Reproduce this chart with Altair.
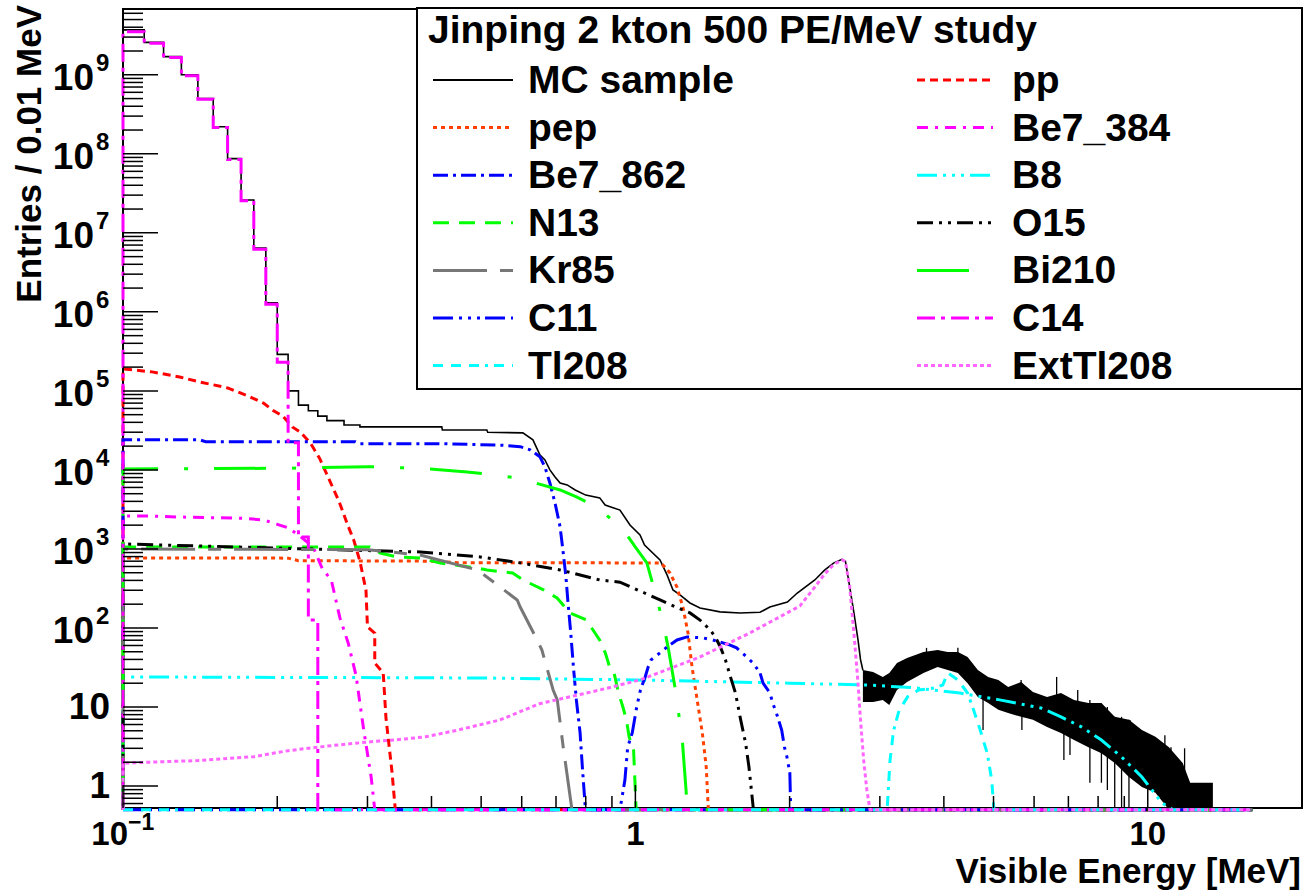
import altair as alt
import pandas as pd

# ------------------------------------------------------------------ frame
X_MIN, X_MAX = 0.1, 20.0
Y_MIN, Y_MAX = 0.527, 6.8e9
EMPTY = 0.5          # empty bins are drawn just under the frame
E_END = 16.0         # histograms run along the bottom up to here
FONT = "Liberation Sans"
W, H = 1179, 799

# ------------------------------------------------------------------ MC sample
MC_EDGES = [0.10, 0.11, 0.12, 0.13, 0.14, 0.15, 0.16, 0.17, 0.18, 0.19, 0.20,
            0.21, 0.22, 0.23, 0.24, 0.25, 0.26, 0.27, 0.28, 0.29, 0.30]
MC_BINS = [3.7e9, 2.57e9, 1.7e9, 1.0e9, 5.0e8, 2.2e8, 8.7e7, 2.6e7, 6.4e6, 1.3e6,
           2.9e5, 1.0e5, 6.6e4, 5.6e4, 4.8e4, 4.2e4, 4.2e4, 3.7e4, 3.7e4, 3.5e4]
MC_TAIL_E = [0.419, 0.42, 0.513, 0.515, 0.603, 0.631, 0.651, 0.666, 0.681, 0.697,
             0.713, 0.736, 0.763, 0.80, 0.852, 0.873, 0.933, 0.976, 1.021, 1.042,
             1.117, 1.153, 1.184, 1.222, 1.278, 1.337, 1.463, 1.60, 1.751, 1.83,
             1.98, 2.07, 2.24, 2.34, 2.44, 2.531, 2.57, 2.62, 2.67, 2.72, 2.75, 2.78]
MC_TAIL_V = [3.5e4, 3.2e4, 3.2e4, 3.0e4, 2.94e4, 2.4e4, 1.55e4, 1.34e4, 1.0e4, 8150,
             6840, 6460, 5580, 4800, 4430, 3600, 3100, 2010, 1500, 1120,
             726, 469, 303, 262, 207, 179, 160, 155, 158, 184,
             213, 277, 405, 540, 666, 740, 700, 330, 155, 70, 40, 29]
# fluctuating high-energy part: envelope of the bin contents
MC_HIGH_E = [2.78, 2.91, 3.04, 3.13, 3.24, 3.39, 3.65, 3.89, 4.07, 4.26, 4.45, 4.66,
             4.88, 5.11, 5.34, 5.66, 5.97, 6.36, 6.77, 7.18, 7.66, 8.12, 8.62, 9.19,
             9.74, 10.35, 11.0, 11.7, 12.1, 13.0, 13.4]
MC_HIGH_MAX = [29.4, 27.7, 24, 26.9, 36, 41.6, 49.6, 52.6, 49.6, 49.6, 43, 29.4,
               24, 22, 17.9, 20.7, 15.5, 13.4, 15, 12.3, 11.2, 11.2, 7.5, 6.9,
               5.1, 4.2, 3.1, 1.95, 1.1, 1.1, 1.1]
MC_HIGH_MIN = [11.6, 11.6, 12.3, 10.6, 16.4, 20.7, 27, 32, 29.4, 27, 20, 13.4,
               11.2, 9.2, 8.4, 7.5, 6.9, 5.6, 4.7, 3.82, 3.1, 2.6, 1.95, 1.3,
               0.97, 0.82, 0, 0, 0, 0, 0]
SPIKE_E = [3.70, 4.26, 4.77, 5.66, 5.68, 6.64, 6.86, 7.05, 7.30, 7.71, 8.12, 8.34,
           8.62, 8.76, 8.89, 9.19, 9.24, 9.42, 10.8, 11.1, 11.8]
SPIKE_LO = [40, 40, 5.1, 12, 5.1, 10, 2.13, 2.47, 8, 1.1, 1.1, 0.89,
            0, 4, 0, 0, 3, 2, 1.5, 1.2, 0.8]
SPIKE_HI = [56, 56, 24, 22, 20, 24, 14, 13, 16.4, 12.3, 11, 10,
            7.5, 6.9, 7.5, 6.9, 6.8, 4.7, 4.4, 3.1, 3.0]

# ------------------------------------------------------------------ components
C14_EDGES = [0.10, 0.11, 0.12, 0.13, 0.14, 0.15, 0.16, 0.17, 0.18, 0.19, 0.20,
             0.21, 0.22, 0.23, 0.24]
C14_BINS = [3.5e9, 2.5e9, 1.65e9, 9.7e8, 4.9e8, 2.15e8, 8.5e7, 2.55e7, 6.2e6,
            1.25e6, 2.3e5, 2.2e4, 1420, 126]

PP_E = [0.100, 0.114, 0.129, 0.141, 0.160, 0.177, 0.188, 0.196, 0.205, 0.214,
        0.222, 0.232, 0.242, 0.252, 0.264, 0.275, 0.282, 0.290, 0.298, 0.300,
        0.310, 0.310, 0.322, 0.326, 0.335, 0.340]
PP_V = [1.9e5, 1.74e5, 1.5e5, 1.3e5, 1.09e5, 8.4e4, 7.0e4, 5.7e4, 4.8e4, 3.5e4,
        3.0e4, 2.2e4, 1.4e4, 7800, 4000, 1950, 1300, 700, 300, 103,
        86, 36, 27, 7.3, 1.5, 0]

PEP_E = [0.10, 0.21, 0.22, 0.41, 0.45, 1.12, 1.14, 1.168, 1.205, 1.238, 1.267,
         1.290, 1.320, 1.351, 1.375, 1.388]
PEP_V = [770, 765, 710, 700, 670, 665, 594, 497, 331, 184, 86, 32, 12.3, 4.7, 1.74, 0]

BE7_384_E = [0.100, 0.114, 0.133, 0.169, 0.188, 0.200, 0.210, 0.220, 0.235, 0.245,
             0.255, 0.265, 0.275, 0.285, 0.295, 0.305, 0.310]
BE7_384_V = [2620, 2600, 2520, 2450, 2330, 2050, 1850, 1500, 1060, 558,
             405, 135, 65, 25, 5.1, 1.3, 0]

BE7_862_E = [0.10, 0.141, 0.145, 0.284, 0.29, 0.42, 0.55, 0.596, 0.623, 0.651, 0.666,
             0.681, 0.697, 0.713, 0.722, 0.732, 0.738, 0.748, 0.757, 0.767, 0.78,
             0.788, 0.799]
BE7_862_V = [2.4e4, 2.4e4, 2.28e4, 2.28e4, 2.15e4, 2.15e4, 2.05e4, 1.97e4, 1.8e4,
             1.47e4, 1.09e4, 6840, 3800, 1900, 970, 440, 226, 86, 32, 12.3, 4.7,
             1.74, 0]

B8_E = [0.10, 0.5, 1.0, 2.0, 2.84, 3.5, 4.30, 5.14, 6.19, 6.77, 7.42, 8.12, 8.89,
        9.74, 10.19, 10.66, 11.2]
B8_V = [24, 23.3, 22, 20, 19, 17.5, 15, 12.3, 9.7, 7.5, 5.6, 3.82, 2.33, 1.3,
        0.89, 0.61, 0]

N13_E = [0.10, 0.3035, 0.3176, 0.3425, 0.38, 0.4159, 0.4911, 0.5133, 0.5759,
         0.6034, 0.6619, 0.7033, 0.745, 0.8027, 0.8515, 0.8735, 0.8907, 0.9086,
         0.9269, 0.9455, 0.9608, 0.9723, 0.992, 1.0036]
N13_V = [1060, 1060, 889, 792, 769, 665, 574, 541, 497, 405, 303, 240, 155, 126,
         70.5, 48.4, 32, 27, 15, 10, 6.8, 4.2, 2.86, 0]

O15_E = [0.10, 0.38, 0.498, 0.596, 0.713, 0.852, 0.933, 1.042, 1.117, 1.20, 1.278,
         1.337, 1.40, 1.432, 1.465, 1.499, 1.533, 1.568, 1.605, 1.641, 1.666, 1.70]
O15_V = [1156, 916, 792, 666, 542, 405, 380, 277, 226, 184, 155, 126, 94, 77,
         57.5, 39.4, 24, 15, 6.9, 3.5, 1.74, 0]

KR85_E = [0.10, 0.30, 0.38, 0.491, 0.513, 0.588, 0.596, 0.643, 0.657, 0.691, 0.704,
          0.723, 0.729, 0.752]
KR85_V = [1000, 980, 839, 542, 442, 226, 184, 70.5, 52.5, 16.4, 12.3, 3.11, 2.13, 0]

BI210_E = [0.10, 0.21, 0.30, 0.38, 0.4697, 0.527, 0.5876, 0.713, 0.7673, 0.8421,
           0.9479, 0.9994, 1.053, 1.103, 1.133, 1.159, 1.200, 1.216, 1.236, 1.264]
BI210_V = [1.03e4, 1.05e4, 1.1e4, 1.05e4, 9440, 8650, 7920, 5580, 4550, 3400,
           1740, 1060, 665, 226, 116, 56, 15, 7.9, 3.5, 0]

C11_E = [0.933, 0.954, 0.966, 0.986, 1.006, 1.023, 1.045, 1.059, 1.073, 1.117,
         1.153, 1.206, 1.261, 1.354, 1.416, 1.527, 1.576, 1.649, 1.697, 1.751,
         1.775, 1.831, 1.854, 1.895, 1.930, 1.954, 1.976, 2.002, 2.01]
C11_V = [0, 1.19, 3.11, 4.7, 10, 16.4, 24, 32, 39.4, 48.4, 57.5, 70.5, 77, 74.9,
         70.5, 61, 56, 43, 36, 27, 20, 15, 11.2, 7.5, 5.1, 3.11, 2.33, 1.46, 0]

TL208_E = [3.10, 3.14, 3.19, 3.27, 3.40, 3.57, 3.83, 3.98, 4.07, 4.26, 4.45, 4.57,
           4.71, 4.86, 4.96, 5.01]
TL208_V = [0, 2.1, 5, 9, 13.5, 16.4, 17.4, 19, 27, 22, 15, 9.2, 5.1, 2.6, 1.19, 0]

EXT_TL208_E = [0.10, 0.14, 0.18, 0.21, 0.25, 0.30, 0.35, 0.39, 0.45, 0.544, 0.65,
               0.852, 1.021, 1.337, 1.67, 2.095, 2.24, 2.34, 2.44, 2.531, 2.57,
               2.62, 2.67, 2.72, 2.75, 2.79, 2.83, 2.87]
EXT_TL208_V = [1.95, 2.1, 2.35, 2.8, 3.2, 3.6, 3.9, 4.2, 5.1, 6.85, 11, 16.4, 22,
               43, 86, 190, 330, 480, 640, 726, 690, 330, 86, 20, 6.9, 2.1, 0.89, 0]

# ------------------------------------------------------------------ axes
X_MAJOR = [0.1, 1, 10]
X_MINOR = [m * d for d in (0.1, 1) for m in range(2, 10)] + [20]
Y_MAJOR = [10.0 ** k for k in range(0, 10)]
Y_MINOR = ([0.6, 0.7, 0.8, 0.9]
           + [m * 10.0 ** k for k in range(0, 9) for m in range(2, 10)]
           + [2e9, 3e9, 4e9, 5e9, 6e9])
Y_LABEL_BASE = ["1", "10", "10", "10", "10", "10", "10", "10", "10", "10"]
Y_LABEL_EXP = ["", "", "2", "3", "4", "5", "6", "7", "8", "9"]
X_LABEL_BASE = ["10", "1", "10"]
X_LABEL_EXP = ["\u22121", "", ""]


def hist(edges, values):
    pts = []
    for lo, hi, v in zip(edges[:-1], edges[1:], values):
        pts += [(lo, v), (hi, v)]
    return pts


def curve(es, vs):
    pts = [(X_MIN, 0)] + list(zip(es, vs))
    if vs[-1] != 0:
        pts.append((es[-1], 0))
    pts.append((E_END, 0))
    return pts


def frame(points):
    return pd.DataFrame([{"E": e, "V": (v if v > 0 else EMPTY), "i": i}
                         for i, (e, v) in enumerate(points)])


SERIES = {
    "MC sample": [(X_MIN, 0)] + hist(MC_EDGES, MC_BINS) + list(zip(MC_TAIL_E, MC_TAIL_V)),
    "pp": curve(PP_E, PP_V),
    "pep": curve(PEP_E, PEP_V),
    "Be7_384": curve(BE7_384_E, BE7_384_V),
    "Be7_862": curve(BE7_862_E, BE7_862_V),
    "B8": curve(B8_E, B8_V),
    "N13": curve(N13_E, N13_V),
    "O15": curve(O15_E, O15_V),
    "Kr85": curve(KR85_E, KR85_V),
    "Bi210": curve(BI210_E, BI210_V),
    "C11": curve(C11_E, C11_V),
    "C14": [(X_MIN, 0)] + hist(C14_EDGES, C14_BINS) + [(C14_EDGES[-1], 0), (E_END, 0)],
    "Tl208": curve(TL208_E, TL208_V),
    "ExtTl208": curve(EXT_TL208_E, EXT_TL208_V),
}

# colour, dash pattern, line width (ROOT line styles)
STYLE = {
    "MC sample": ("#000000", None, 1.6),
    "pp": ("#ff0000", [8, 5], 3),
    "pep": ("#ff4000", [4, 4], 3),
    "Be7_384": ("#ff00ff", [11, 7, 3, 7], 3),
    "Be7_862": ("#0000ff", [15, 5, 3, 5], 3),
    "B8": ("#00ffff", [20, 6, 3, 6, 3, 6, 3, 6], 3),
    "N13": ("#00ff00", [16, 10], 3),
    "O15": ("#000000", [16, 6, 3, 6, 3, 6], 3),
    "Kr85": ("#777777", [54, 13, 13, 13], 3),
    "Bi210": ("#00ff00", [52, 26, 4, 26], 3),
    "C11": ("#0000ff", [20, 6, 3, 6, 3, 6, 3, 5], 3),
    "C14": ("#ff00ff", [18, 6, 4, 6], 3),
    "Tl208": ("#00ffff", [10, 8, 10, 8, 10, 6, 3, 6], 3),
    "ExtTl208": ("#ff66ff", [4, 3], 3),
}
LEGEND_LEFT = ["MC sample", "pep", "Be7_862", "N13", "Kr85", "C11", "Tl208"]
LEGEND_RIGHT = ["pp", "Be7_384", "B8", "O15", "Bi210", "C14", "ExtTl208"]
LEGEND_TITLE = "Jinping 2 kton 500 PE/MeV study"

xs = alt.Scale(type="log", domain=[X_MIN, X_MAX], nice=False)
ys = alt.Scale(type="log", domain=[Y_MIN, Y_MAX], nice=False)


def X(field):
    return alt.X(field, type="quantitative", scale=xs, axis=None)


def Y(field):
    return alt.Y(field, type="quantitative", scale=ys, axis=None)


one = pd.DataFrame({"k": [0]})
layers = []

# high-energy MC band and its deepest fluctuations
band = pd.DataFrame({"E": MC_HIGH_E,
                     "HI": MC_HIGH_MAX,
                     "LO": [v if v > 0 else EMPTY for v in MC_HIGH_MIN]})
layers.append(alt.Chart(band).mark_area(color="black", opacity=1).encode(
    x=X("E"), y=Y("HI"), y2=alt.Y2("LO")))
spikes = pd.DataFrame({"E": SPIKE_E,
                       "LO": [v if v > 0 else EMPTY for v in SPIKE_LO],
                       "HI": SPIKE_HI})
layers.append(alt.Chart(spikes).mark_rule(color="black", strokeWidth=1.3).encode(
    x=X("E"), y=Y("LO"), y2=alt.Y2("HI")))

for name, pts in SERIES.items():
    color, dash, width = STYLE[name]
    kw = dict(color=color, strokeWidth=width)
    if dash:
        kw["strokeDash"] = dash
    layers.append(alt.Chart(frame(pts)).mark_line(**kw).encode(
        x=X("E"), y=Y("V"), order=alt.Order("i:Q")))

# ticks drawn inside the frame
tick_col = "#000000"
layers.append(alt.Chart(pd.DataFrame({"t": Y_MAJOR})).mark_rule(color=tick_col, strokeWidth=1.5)
              .encode(y=Y("t"), x=alt.value(0), x2=alt.value(35)))
layers.append(alt.Chart(pd.DataFrame({"t": Y_MINOR})).mark_rule(color=tick_col, strokeWidth=1.5)
              .encode(y=Y("t"), x=alt.value(0), x2=alt.value(20)))
layers.append(alt.Chart(pd.DataFrame({"t": X_MAJOR})).mark_rule(color=tick_col, strokeWidth=1.5)
              .encode(x=X("t"), y=alt.value(H), y2=alt.value(H - 23)))
layers.append(alt.Chart(pd.DataFrame({"t": X_MINOR})).mark_rule(color=tick_col, strokeWidth=1.5)
              .encode(x=X("t"), y=alt.value(H), y2=alt.value(H - 12)))

# tick labels
txt = dict(font=FONT, fontWeight="bold", color="black")
ylab = pd.DataFrame({"v": Y_MAJOR, "base": Y_LABEL_BASE, "exp": Y_LABEL_EXP})
layers.append(alt.Chart(ylab).transform_filter("datum.exp == ''")
              .mark_text(align="right", baseline="middle", fontSize=37, dy=1, **txt)
              .encode(y=Y("v"), x=alt.value(-13), text="base:N"))
layers.append(alt.Chart(ylab).transform_filter("datum.exp != ''")
              .mark_text(align="right", baseline="middle", fontSize=37, dy=4, **txt)
              .encode(y=Y("v"), x=alt.value(-29), text="base:N"))
layers.append(alt.Chart(ylab).transform_filter("datum.exp != ''")
              .mark_text(align="left", baseline="middle", fontSize=24, dy=-11, **txt)
              .encode(y=Y("v"), x=alt.value(-27), text="exp:N"))
xlab = pd.DataFrame({"v": X_MAJOR, "base": X_LABEL_BASE, "exp": X_LABEL_EXP})
layers.append(alt.Chart(xlab).transform_filter("datum.exp == ''")
              .mark_text(align="center", baseline="middle", fontSize=33, **txt)
              .encode(x=X("v"), y=alt.value(826), text="base:N"))
layers.append(alt.Chart(xlab).transform_filter("datum.exp != ''")
              .mark_text(align="right", baseline="middle", fontSize=33, dx=5, **txt)
              .encode(x=X("v"), y=alt.value(826), text="base:N"))
layers.append(alt.Chart(xlab).transform_filter("datum.exp != ''")
              .mark_text(align="left", baseline="middle", fontSize=23, dx=5, **txt)
              .encode(x=X("v"), y=alt.value(814), text="exp:N"))

# axis titles
layers.append(alt.Chart(one).mark_text(align="right", baseline="middle", angle=270,
                                       fontSize=35, text="Entries / 0.01 MeV", **txt)
              .encode(x=alt.value(-93), y=alt.value(-4)))
layers.append(alt.Chart(one).mark_text(align="right", baseline="alphabetic",
                                       fontSize=35, text="Visible Energy [MeV]", **txt)
              .encode(x=alt.value(W - 1), y=alt.value(874)))

# legend box
layers.append(alt.Chart(one).mark_rect(fill="white", stroke="black", strokeWidth=2)
              .encode(x=alt.value(294), x2=alt.value(W), y=alt.value(-1), y2=alt.value(380)))
layers.append(alt.Chart(one).mark_text(align="left", baseline="alphabetic", fontSize=39,
                                       text=LEGEND_TITLE, **txt)
              .encode(x=alt.value(305), y=alt.value(34)))
for col, names in enumerate([LEGEND_LEFT, LEGEND_RIGHT]):
    x0, x1, xt = (310, 390, 405) if col == 0 else (794, 870, 889)
    for row, name in enumerate(names):
        color, dash, width = STYLE[name]
        yy = 71 + 47.6 * row
        kw = dict(color=color, strokeWidth=width if name != "MC sample" else 2)
        if dash:
            kw["strokeDash"] = dash
        layers.append(alt.Chart(one).mark_rule(**kw).encode(
            x=alt.value(x0), x2=alt.value(x1), y=alt.value(yy)))
        layers.append(alt.Chart(one).mark_text(align="left", baseline="alphabetic",
                                               fontSize=39, text=name, **txt)
                      .encode(x=alt.value(xt), y=alt.value(yy + 13)))

chart = (alt.layer(*layers)
         .properties(width=W, height=H,
                     autosize=alt.AutoSizeParams(type="none"),
                     padding={"left": 123, "top": 9, "right": 4, "bottom": 83})
         .configure(background="white")
         .configure_view(stroke="black", strokeWidth=2))

chart.save("out.html", embed_options={"renderer": "svg", "actions": False})
